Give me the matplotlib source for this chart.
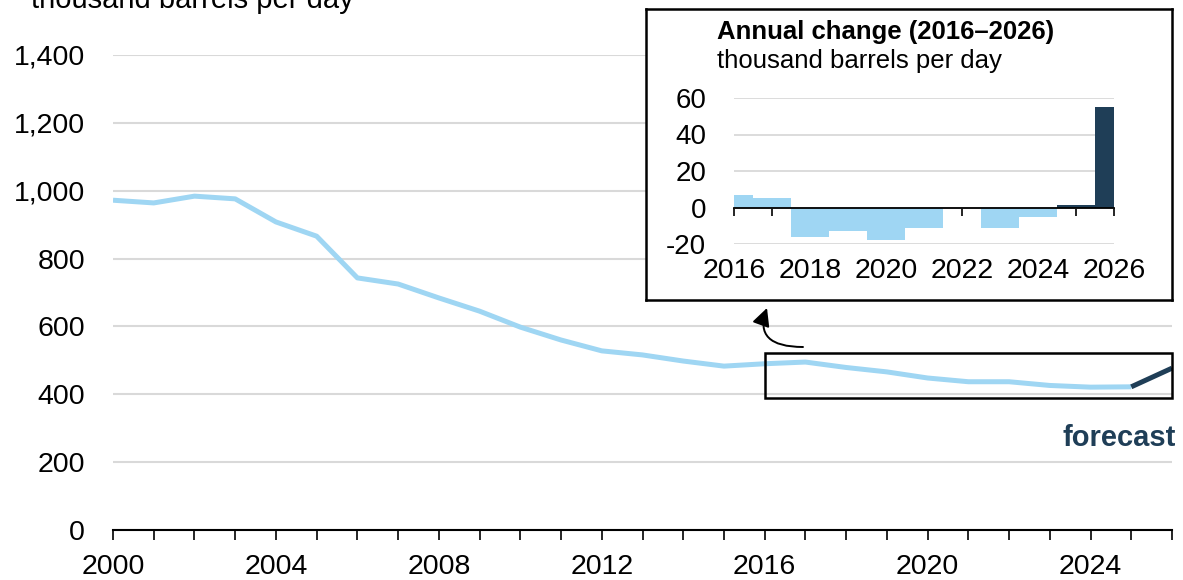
import matplotlib
matplotlib.use("Agg")
import matplotlib.pyplot as plt
from matplotlib.ticker import FuncFormatter, MultipleLocator
from matplotlib.patches import Rectangle

plt.rcParams['font.family'] = ['Liberation Sans', 'DejaVu Sans']
plt.rcParams['axes.unicode_minus'] = False

# ---- data ----
years = list(range(2000, 2027))
production = [972, 964, 984, 976, 908, 866, 743, 725, 684, 645, 598, 560, 528, 516,
              498, 483, 490, 495, 479, 466, 448, 437, 437, 426, 421, 422, 477]
forecast_start = 2025

change_years = list(range(2016, 2027))
annual_change = [7, 5, -16, -13, -18, -11, 0, -11, -5, 1.5, 55]

main_ticks = [2000, 2004, 2008, 2012, 2016, 2020, 2024]
inset_ticks = [2016, 2018, 2020, 2022, 2024, 2026]

LIGHT = '#9fd6f3'
DARK = '#1f3e57'
GRID = '#d9d9d9'

W, H = 1183, 580
fig = plt.figure(figsize=(W / 100, H / 100), dpi=100)

def fx(px):
    return px / W

def fy(py):
    return 1 - py / H

# ---- main axes ----
ax = fig.add_axes([fx(113), fy(530), fx(1172) - fx(113), fy(55) - fy(530)])
i0 = years.index(forecast_start)
ax.plot(years[:i0 + 1], production[:i0 + 1], color=LIGHT, lw=3.6, solid_capstyle='butt', zorder=3)
ax.plot(years[i0:], production[i0:], color=DARK, lw=3.6, solid_capstyle='butt', zorder=3)
ax.set_xlim(2000, 2026)
ax.set_ylim(0, 1400)
ax.yaxis.set_major_locator(MultipleLocator(200))
ax.yaxis.set_major_formatter(FuncFormatter(lambda v, p: f"{int(v):,}"))
ax.set_xticks(years, minor=True)
ax.set_xticks(main_ticks)
ax.grid(axis='y', color=GRID, lw=1.5)
ax.set_axisbelow(True)
for s in ['top', 'right', 'left']:
    ax.spines[s].set_visible(False)
ax.spines['bottom'].set_linewidth(1.5)
ax.tick_params(axis='y', length=0, pad=20, labelsize=20.5)
ax.tick_params(axis='x', which='both', direction='out', length=7, width=1.2, pad=10, labelsize=20.5)
ax.tick_params(axis='x', which='minor', length=7)

# highlight rectangle
ax.add_patch(Rectangle((2016, 390), 10, 132, fill=False, ec='black', lw=1.8, zorder=4, clip_on=False))
ax.text(2026.1, 270, 'forecast', color=DARK, fontsize=21, fontweight='bold', ha='right', va='center')

fig.text(fx(31), fy(8), 'thousand barrels per day', fontsize=21, ha='left', va='baseline')

# arrow from rectangle to inset
ax.annotate('', xy=(fx(767), fy(308)), xycoords='figure fraction',
            xytext=(fx(803), fy(347)), textcoords='figure fraction',
            arrowprops=dict(arrowstyle='-|>', color='black', lw=1.4,
                            connectionstyle='angle3,angleA=0,angleB=70',
                            mutation_scale=27, shrinkA=0, shrinkB=0))

# ---- inset frame ----
frame = fig.add_axes([fx(646), fy(300), fx(1172) - fx(646), fy(9) - fy(300)])
frame.set_facecolor('white')
frame.set_xticks([])
frame.set_yticks([])
for s in frame.spines.values():
    s.set_linewidth(1.8)
frame.set_zorder(5)
frame.text(fx(717), fy(39), 'Annual change (2016–2026)', transform=fig.transFigure,
           fontsize=18.5, fontweight='bold', ha='left', va='baseline')
frame.text(fx(717), fy(68), 'thousand barrels per day', transform=fig.transFigure,
           fontsize=18.5, ha='left', va='baseline')

# ---- inset axes ----
ins = fig.add_axes([fx(734), fy(244), fx(1114) - fx(734), fy(98) - fy(244)])
ins.set_zorder(6)
ins.patch.set_alpha(0)
bar_colors = [DARK if y >= forecast_start else LIGHT for y in change_years]
ins.bar(change_years, annual_change, width=1.0, color=bar_colors, zorder=3)
ins.set_xlim(2016, 2026)
ins.set_ylim(-20, 60)
ins.set_yticks([-20, 0, 20, 40, 60])
ins.grid(axis='y', color=GRID, lw=1.3)
ins.set_axisbelow(True)
for s in ['top', 'right', 'left']:
    ins.spines[s].set_visible(False)
ins.spines['bottom'].set_position(('data', 0))
ins.spines['bottom'].set_linewidth(1.3)
ins.spines['bottom'].set_zorder(4)
ins.set_xticks(change_years)
ins.tick_params(axis='x', direction='out', length=6, width=1.2, labelbottom=False)
ins.tick_params(axis='y', length=0, pad=20, labelsize=20)
sec = ins.secondary_xaxis('bottom')
sec.set_xticks(inset_ticks)
sec.tick_params(length=0, labelsize=20.5, pad=10)
sec.spines['bottom'].set_visible(False)

fig.savefig('out.png', dpi=100)
